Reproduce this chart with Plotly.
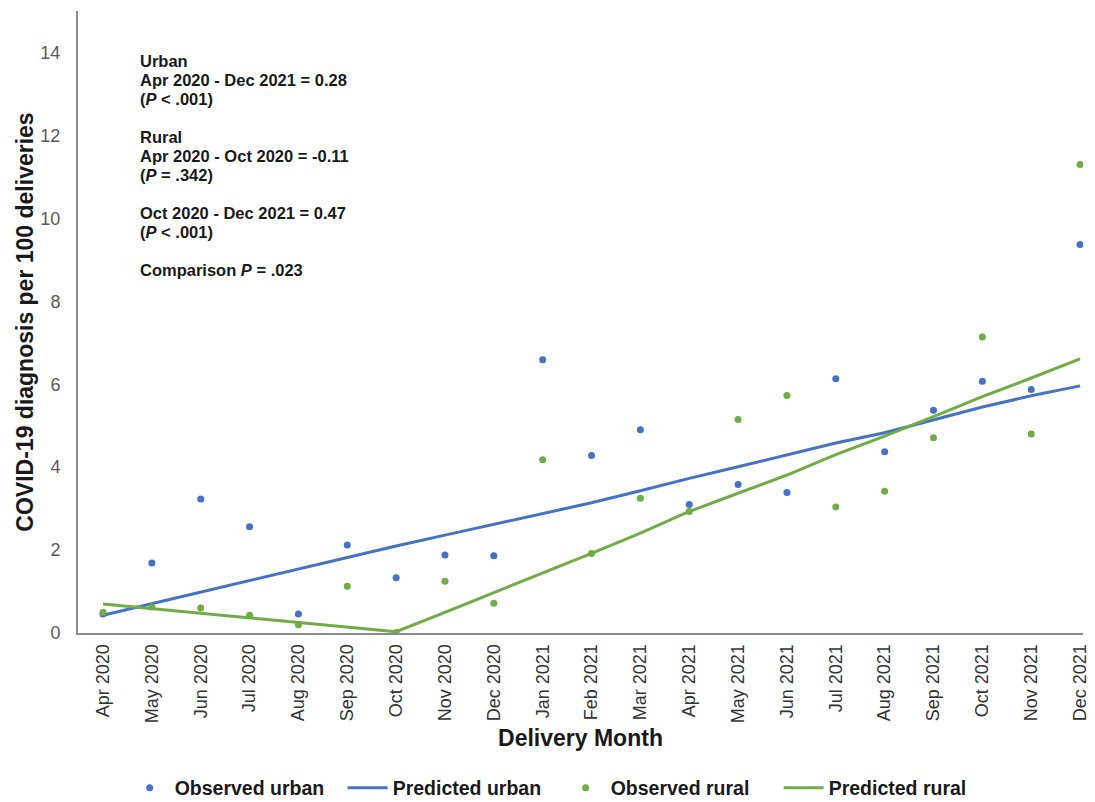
import plotly.graph_objects as go

months = ["Apr 2020", "May 2020", "Jun 2020", "Jul 2020", "Aug 2020", "Sep 2020", "Oct 2020",
          "Nov 2020", "Dec 2020", "Jan 2021", "Feb 2021", "Mar 2021", "Apr 2021", "May 2021",
          "Jun 2021", "Jul 2021", "Aug 2021", "Sep 2021", "Oct 2021", "Nov 2021", "Dec 2021"]

observed_urban = [0.46, 1.69, 3.23, 2.56, 0.46, 2.12, 1.33, 1.88, 1.86, 6.59, 4.28,
                  4.90, 3.10, 3.58, 3.39, 6.13, 4.37, 5.37, 6.07, 5.87, 9.37]
predicted_urban = [0.43, 0.71, 0.99, 1.27, 1.55, 1.83, 2.10, 2.36, 2.62, 2.88, 3.14,
                   3.43, 3.73, 4.01, 4.30, 4.58, 4.83, 5.14, 5.45, 5.72, 5.96]
observed_rural = [0.50, 0.63, 0.60, 0.43, 0.20, 1.13, 0.01, 1.25, 0.72, 4.18, 1.92,
                  3.25, 2.93, 5.15, 5.73, 3.04, 3.42, 4.71, 7.14, 4.80, 11.30]
predicted_rural = [0.70, 0.59, 0.48, 0.37, 0.26, 0.14, 0.03, 0.50, 0.97, 1.44, 1.92,
                   2.41, 2.93, 3.37, 3.81, 4.30, 4.75, 5.22, 5.70, 6.15, 6.61]

note_lines = ["Urban", "Apr 2020 - Dec 2021 = 0.28", "(<i>P</i> < .001)", "",
              "Rural", "Apr 2020 - Oct 2020 = -0.11", "(<i>P</i> = .342)", "",
              "Oct 2020 - Dec 2021 = 0.47", "(<i>P</i> < .001)", "",
              "Comparison <i>P</i> = .023"]

BLUE = "#4472C4"
GREEN = "#70AD47"
FONT = "Liberation Sans, Arial, sans-serif"
DARK = "#1a1a1a"

W, H = 1095, 802
ML, MR, MT, MB = 78, 12, 11, 169
plot_h = H - MT - MB

fig = go.Figure()
fig.add_trace(go.Scatter(x=months, y=observed_urban, mode="markers", name="<b>Observed urban</b>",
                         marker=dict(color=BLUE, size=7)))
fig.add_trace(go.Scatter(x=months, y=predicted_urban, mode="lines", name="<b>Predicted urban</b>",
                         line=dict(color=BLUE, width=3)))
fig.add_trace(go.Scatter(x=months, y=observed_rural, mode="markers", name="<b>Observed rural</b>",
                         marker=dict(color=GREEN, size=7)))
fig.add_trace(go.Scatter(x=months, y=predicted_rural, mode="lines", name="<b>Predicted rural</b>",
                         line=dict(color=GREEN, width=3)))

# text block, one annotation per line for Excel-like line spacing
first_line_px = 61
line_step_px = 19
for i, txt in enumerate(note_lines):
    if not txt:
        continue
    ypx = first_line_px + i * line_step_px
    fig.add_annotation(text="<b>" + txt + "</b>", xref="paper", yref="paper",
                       x=(138 - ML) / (W - ML - MR), y=1 - (ypx - MT) / plot_h,
                       xanchor="left", yanchor="middle", align="left", showarrow=False,
                       font=dict(family=FONT, size=16.5, color=DARK))

fig.update_layout(
    width=W, height=H,
    paper_bgcolor="white", plot_bgcolor="white",
    margin=dict(l=ML, r=MR, t=MT, b=MB, autoexpand=False),
    font=dict(family=FONT),
    showlegend=True,
    legend=dict(orientation="h", x=0.512, xref="container", xanchor="center",
                y=1 - 788 / H, yref="container", yanchor="middle",
                font=dict(family=FONT, size=19.5, color=DARK),
                itemwidth=40, tracegroupgap=0, entrywidth=163, entrywidthmode="pixels"),
    xaxis=dict(
        type="category", range=[-0.512, 20.06],
        tickangle=-90, tickfont=dict(family=FONT, size=18, color="#333333"),
        showgrid=False, showline=True, linecolor="#8c8c8c", linewidth=2,
        ticks="", ticklabelstandoff=2, automargin=False,
        title=dict(text="<b>Delivery Month</b>", font=dict(family=FONT, size=23, color=DARK),
                   standoff=8),
    ),
    yaxis=dict(
        range=[0, 15], tickvals=[0, 2, 4, 6, 8, 10, 12, 14],
        tickfont=dict(family=FONT, size=18, color="#595959"),
        showgrid=False, zeroline=False, showline=True, linecolor="#8c8c8c", linewidth=2,
        ticks="", ticklabelstandoff=12, automargin=False,
        title=dict(text="<b>COVID-19 diagnosis per 100 deliveries</b>",
                   font=dict(family=FONT, size=23, color=DARK), standoff=0),
    ),
)

fig.write_html("out.html", config={"displayModeBar": False},
               post_script="document.body.style.margin='0';")
